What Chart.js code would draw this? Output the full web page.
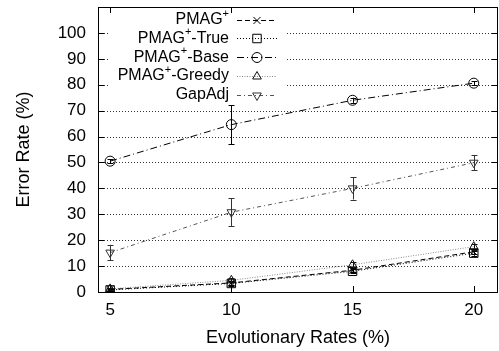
<!DOCTYPE html>
<html><head><meta charset="utf-8">
<script src="https://cdn.jsdelivr.net/npm/chart.js@4.4.0/dist/chart.umd.min.js"></script>
<style>html,body{margin:0;padding:0;background:#fff;}</style>
</head><body>
<canvas id="c" width="499" height="351"></canvas>
<script>
// ---- data ----
const rates = [5, 10, 15, 20];
const xTicks = [5, 10, 15, 20];
const yTicks = [0, 10, 20, 30, 40, 50, 60, 70, 80, 90, 100];
const seriesNames = ['PMAG+', 'PMAG+-True', 'PMAG+-Base', 'PMAG+-Greedy', 'GapAdj'];
const pmag = [1.0, 3.5, 8.4, 15.5];
const pmagErr = [0.5, 0.8, 0.8, 1.0];
const pmagTrue = [0.8, 3.3, 8.0, 15.0];
const pmagTrueErr = [0.5, 0.8, 0.8, 1.0];
const pmagBase = [50.5, 64.6, 74.0, 80.6];
const pmagBaseErr = [0.8, 7.5, 1.0, 0.8];
const pmagGreedy = [1.2, 4.5, 10.5, 17.5];
const pmagGreedyErr = [0.5, 0.8, 1.0, 1.2];
const gapAdj = [15.2, 30.8, 40.0, 49.9];
const gapAdjErr = [3.0, 5.3, 4.3, 3.0];

const FONT = 'Liberation Sans, Arial, Helvetica, sans-serif';

function pts(vals) { return rates.map((x, i) => ({ x: x, y: vals[i] })); }

const styles = [
  { color: '#000', dash: [5, 3], pointStyle: 'crossRot', radius: 5, rotation: 0, pcolor: '#000' },
  { color: '#000', dash: [1, 2], pointStyle: 'rect', radius: 6, rotation: 0, pcolor: '#000' },
  { color: '#000', dash: [7, 3, 1, 3], pointStyle: 'circle', radius: 5, rotation: 0, pcolor: '#000' },
  { color: '#8a8a8a', dash: [1, 1.5], pointStyle: 'triangle', radius: 5, rotation: 0, pcolor: '#111' },
  { color: '#555', dash: [4, 3, 1, 3], pointStyle: 'triangle', radius: 5, rotation: 180, pcolor: '#333' }
];
const values = [pmag, pmagTrue, pmagBase, pmagGreedy, gapAdj];
const errors = [pmagErr, pmagTrueErr, pmagBaseErr, pmagGreedyErr, gapAdjErr];

const datasets = values.map((v, i) => ({
  label: seriesNames[i],
  data: pts(v),
  errs: errors[i],
  borderColor: styles[i].color,
  borderWidth: 1,
  borderDash: styles[i].dash,
  pointStyle: styles[i].pointStyle,
  pointRadius: styles[i].radius,
  pointRotation: styles[i].rotation,
  pointBorderColor: styles[i].pcolor,
  pointBackgroundColor: 'rgba(0,0,0,0)',
  pointBorderWidth: 1,
  fill: false,
  tension: 0
}));

function drawMarker(ctx, st, x, y) {
  const opts = { pointStyle: st.pointStyle, radius: st.radius, rotation: st.rotation, borderWidth: 1 };
  ctx.save();
  ctx.setLineDash([]);
  ctx.strokeStyle = st.pcolor;
  ctx.fillStyle = 'rgba(0,0,0,0)';
  ctx.lineWidth = 1;
  if (Chart.helpers && Chart.helpers.drawPoint) {
    Chart.helpers.drawPoint(ctx, opts, x, y);
  }
  ctx.restore();
}

const frame = {
  id: 'gnuframe',
  beforeDatasetsDraw(chart) {
    const { ctx, chartArea: a, scales } = chart;
    const ys = scales.y, xs = scales.x;
    ctx.save();
    ctx.strokeStyle = '#333';
    ctx.lineWidth = 1;
    ctx.setLineDash([1, 2]);
    yTicks.forEach(v => {
      if (v === 0) return;
      const py = Math.round(ys.getPixelForValue(v)) + 0.5;
      ctx.beginPath(); ctx.moveTo(a.left, py); ctx.lineTo(a.right, py); ctx.stroke();
    });
    ctx.setLineDash([]);
    ctx.fillStyle = '#fff';
    ctx.fillRect(108, a.top + 1, 287 - 108, 104 - a.top);
    ctx.strokeStyle = '#000';
    ctx.beginPath();
    yTicks.forEach(v => {
      const py = Math.round(ys.getPixelForValue(v)) + 0.5;
      ctx.moveTo(a.left, py); ctx.lineTo(a.left + 6, py);
      ctx.moveTo(a.right, py); ctx.lineTo(a.right - 6, py);
    });
    xTicks.forEach(v => {
      const px = Math.round(xs.getPixelForValue(v)) + 0.5;
      ctx.moveTo(px, a.bottom); ctx.lineTo(px, a.bottom - 6);
      ctx.moveTo(px, a.top); ctx.lineTo(px, a.top + 6);
    });
    ctx.stroke();
    ctx.restore();
  },
  afterDatasetsDraw(chart) {
    const { ctx, chartArea: a, scales } = chart;
    const ys = scales.y, xs = scales.x;
    ctx.save();
    ctx.setLineDash([]);
    ctx.lineWidth = 1;
    chart.data.datasets.forEach((ds, i) => {
      ctx.strokeStyle = styles[i].pcolor;
      ds.data.forEach((p, j) => {
        const e = ds.errs[j];
        const px = Math.round(xs.getPixelForValue(p.x)) + 0.5;
        const y1 = ys.getPixelForValue(p.y + e);
        const y2 = ys.getPixelForValue(p.y - e);
        ctx.beginPath();
        ctx.moveTo(px, y1); ctx.lineTo(px, y2);
        ctx.moveTo(px - 3, Math.round(y1) + 0.5); ctx.lineTo(px + 3, Math.round(y1) + 0.5);
        ctx.moveTo(px - 3, Math.round(y2) + 0.5); ctx.lineTo(px + 3, Math.round(y2) + 0.5);
        ctx.stroke();
      });
    });
    ctx.strokeStyle = '#000';
    ctx.strokeRect(Math.round(a.left) + 0.5, Math.round(a.top) + 0.5,
                   Math.round(a.right - a.left) - 1, Math.round(a.bottom - a.top));
    const textRight = 229, x0 = 237, x1 = 277, xm = 257;
    seriesNames.forEach((name, i) => {
      const y = 19.7 + i * 18.7;
      const idx = name.indexOf('+');
      let parts;
      if (idx >= 0) parts = [name.slice(0, idx), '+', name.slice(idx + 1)];
      else parts = [name, '', ''];
      ctx.fillStyle = '#000';
      ctx.textBaseline = 'middle';
      ctx.textAlign = 'left';
      ctx.font = '16px ' + FONT;
      const w0 = ctx.measureText(parts[0]).width;
      const w2 = ctx.measureText(parts[2]).width;
      ctx.font = '11px ' + FONT;
      const w1 = ctx.measureText(parts[1]).width;
      let sx = textRight - (w0 + w1 + w2);
      ctx.font = '16px ' + FONT;
      ctx.fillText(parts[0], sx, y);
      ctx.font = '11px ' + FONT;
      ctx.fillText(parts[1], sx + w0, y - 6);
      ctx.font = '16px ' + FONT;
      ctx.fillText(parts[2], sx + w0 + w1, y);
      ctx.strokeStyle = styles[i].color;
      ctx.setLineDash(styles[i].dash);
      ctx.beginPath();
      ctx.moveTo(x0, Math.round(y) + 0.5); ctx.lineTo(x1, Math.round(y) + 0.5);
      ctx.stroke();
      ctx.setLineDash([]);
      drawMarker(ctx, styles[i], xm, Math.round(y) + 0.5);
    });
    ctx.restore();
  }
};

new Chart(document.getElementById('c'), {
  type: 'line',
  data: { datasets: datasets },
  options: {
    responsive: false,
    animation: false,
    layout: { autoPadding: false, padding: { top: 7, right: 1, left: 0, bottom: 0 } },
    plugins: { legend: { display: false }, tooltip: { enabled: false } },
    scales: {
      x: {
        type: 'linear', min: 4.5, max: 21,
        afterBuildTicks: s => { s.ticks = xTicks.map(v => ({ value: v })); },
        afterFit: s => { s.height = 59; s.paddingLeft = 0; s.paddingRight = 0; s.paddingTop = 0; s.paddingBottom = 0; },
        grid: { display: false, drawTicks: false },
        border: { display: false },
        ticks: { padding: 8, color: '#000', font: { family: FONT, size: 17 } },
        title: { display: true, text: 'Evolutionary Rates (%)', color: '#000',
                 font: { family: FONT, size: 18 }, padding: { top: 0, bottom: 2 } }
      },
      y: {
        type: 'linear', min: 0, max: 110,
        afterBuildTicks: s => { s.ticks = yTicks.map(v => ({ value: v })); },
        afterFit: s => { s.width = 98; s.paddingLeft = 0; s.paddingRight = 0; s.paddingTop = 0; s.paddingBottom = 0; },
        grid: { display: false, drawTicks: false },
        border: { display: false },
        ticks: { padding: 12, color: '#000', font: { family: FONT, size: 17 } },
        title: { display: true, text: 'Error Rate (%)', color: '#000',
                 font: { family: FONT, size: 18 }, padding: { top: 13, bottom: 0 } }
      }
    }
  },
  plugins: [frame]
});
</script>
</body></html>
